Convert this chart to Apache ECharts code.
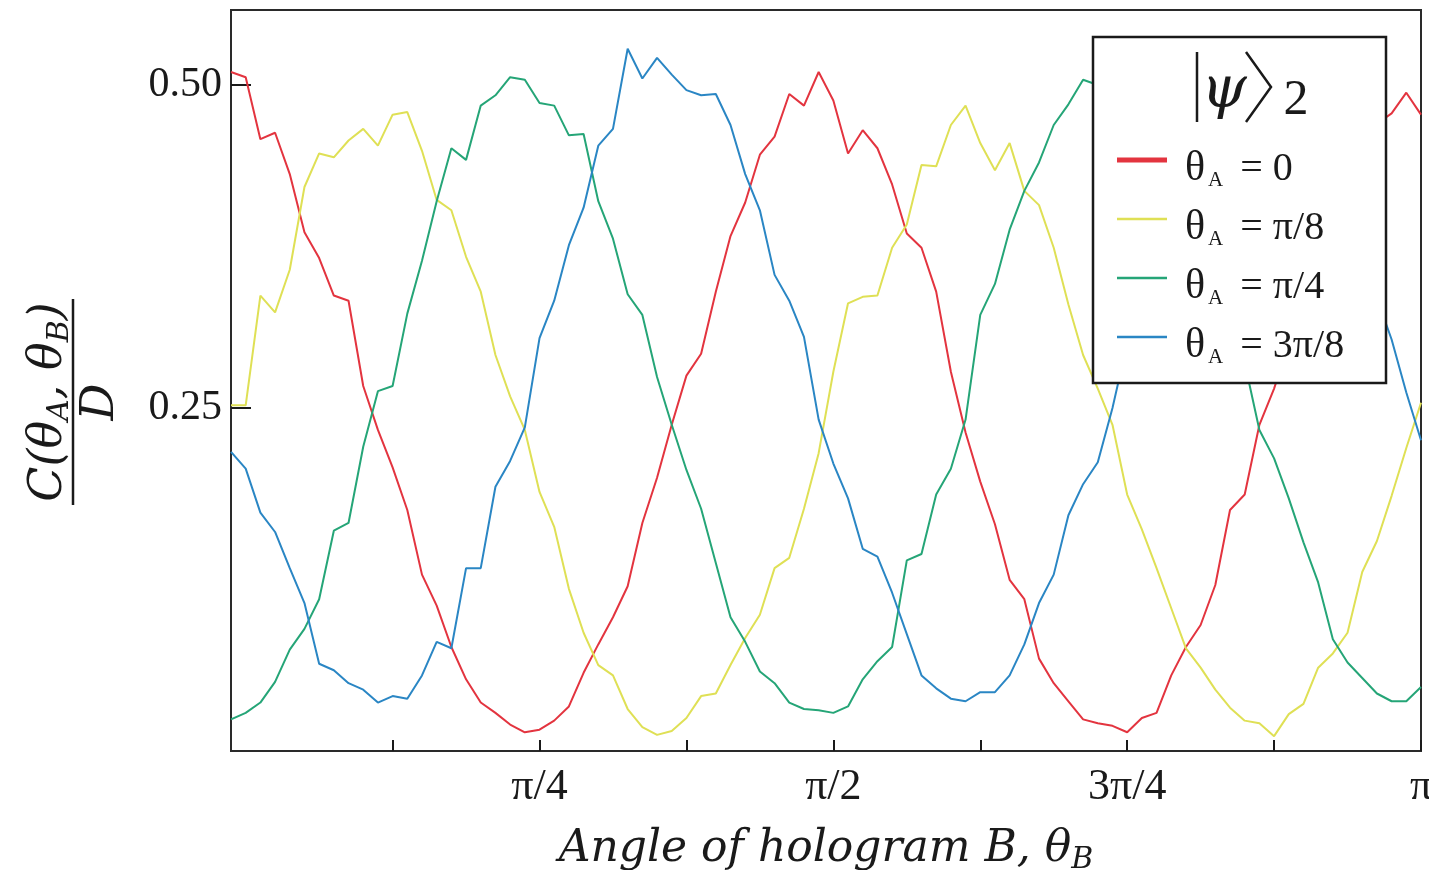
<!DOCTYPE html>
<html>
<head>
<meta charset="utf-8">
<title>C(θA, θB)/D against θB</title>
<script src="https://cdn.jsdelivr.net/npm/echarts@6/dist/echarts.min.js"></script>
<style>
  html, body { margin: 0; padding: 0; background: #fff; }
  #main { width: 1429px; height: 870px; }
</style>
</head>
<body>
<div id="main"></div>
<script>
// angle of hologram B, in units of pi (sampled every pi/80, first sample one step before 0)
var thetaB = [];
for (var k = -1; k <= 80; k++) thetaB.push(k / 80);

// C(thetaA, thetaB) / D
var theta0 = [
  0.510, 0.506, 0.458, 0.463, 0.431, 0.386, 0.366, 0.337, 0.333, 0.267,
  0.233, 0.204, 0.171, 0.121, 0.097, 0.065, 0.040, 0.022, 0.014, 0.005,
  -0.001, 0.001, 0.008, 0.019, 0.045, 0.067, 0.088, 0.112, 0.161, 0.196,
  0.237, 0.275, 0.292, 0.340, 0.383, 0.409, 0.446, 0.460, 0.493, 0.484,
  0.510, 0.488, 0.447, 0.465, 0.451, 0.423, 0.385, 0.374, 0.340, 0.278,
  0.231, 0.193, 0.160, 0.117, 0.102, 0.056, 0.037, 0.023, 0.009, 0.006,
  0.004, -0.001, 0.010, 0.014, 0.043, 0.065, 0.082, 0.113, 0.171, 0.183,
  0.237, 0.265, 0.300, 0.340, 0.380, 0.410, 0.440, 0.460, 0.470, 0.478,
  0.494, 0.477
];
var thetaPi8 = [
  0.252, 0.252, 0.337, 0.324, 0.357, 0.421, 0.447, 0.444, 0.457, 0.466,
  0.453, 0.477, 0.479, 0.449, 0.411, 0.403, 0.367, 0.340, 0.291, 0.259,
  0.233, 0.185, 0.158, 0.110, 0.076, 0.051, 0.043, 0.017, 0.003, -0.003,
  0.000, 0.010, 0.027, 0.029, 0.051, 0.072, 0.090, 0.126, 0.134, 0.172,
  0.215, 0.278, 0.331, 0.336, 0.337, 0.374, 0.392, 0.438, 0.437, 0.469,
  0.484, 0.455, 0.434, 0.455, 0.418, 0.407, 0.374, 0.330, 0.291, 0.265,
  0.237, 0.183, 0.156, 0.126, 0.095, 0.064, 0.049, 0.032, 0.018, 0.008,
  0.006, -0.004, 0.013, 0.021, 0.049, 0.060, 0.076, 0.123, 0.147, 0.182,
  0.219, 0.254
];
var thetaPi4 = [
  0.009, 0.014, 0.022, 0.038, 0.063, 0.079, 0.102, 0.155, 0.161, 0.220,
  0.263, 0.267, 0.323, 0.364, 0.410, 0.451, 0.442, 0.484, 0.492, 0.506,
  0.504, 0.486, 0.484, 0.461, 0.462, 0.410, 0.381, 0.338, 0.322, 0.274,
  0.237, 0.202, 0.172, 0.130, 0.088, 0.069, 0.046, 0.037, 0.022, 0.017,
  0.016, 0.014, 0.019, 0.040, 0.054, 0.065, 0.132, 0.137, 0.183, 0.203,
  0.241, 0.322, 0.346, 0.388, 0.418, 0.440, 0.469, 0.485, 0.504, 0.500,
  0.495, 0.488, 0.470, 0.452, 0.420, 0.395, 0.370, 0.345, 0.318, 0.285,
  0.233, 0.211, 0.180, 0.146, 0.115, 0.071, 0.053, 0.041, 0.029, 0.023,
  0.023, 0.034
];
var theta3Pi8 = [
  0.216, 0.203, 0.169, 0.154, 0.126, 0.099, 0.052, 0.047, 0.037, 0.032,
  0.022, 0.027, 0.025, 0.043, 0.069, 0.064, 0.126, 0.126, 0.189, 0.209,
  0.235, 0.304, 0.333, 0.376, 0.405, 0.453, 0.466, 0.528, 0.505, 0.521,
  0.508, 0.496, 0.492, 0.493, 0.469, 0.431, 0.403, 0.353, 0.333, 0.305,
  0.241, 0.207, 0.180, 0.141, 0.135, 0.107, 0.075, 0.043, 0.033, 0.025,
  0.023, 0.030, 0.030, 0.043, 0.067, 0.099, 0.121, 0.167, 0.191, 0.208,
  0.250, 0.300, 0.340, 0.380, 0.420, 0.450, 0.480, 0.500, 0.520, 0.530,
  0.520, 0.500, 0.480, 0.460, 0.440, 0.410, 0.390, 0.360, 0.335, 0.303,
  0.262, 0.225
];

var seriesNames = ['θA = 0', 'θA = π/8', 'θA = π/4', 'θA = 3π/8'];
var xTickValues = [0.125, 0.25, 0.375, 0.5, 0.625, 0.75, 0.875, 1];
var xLabelValues = [0.25, 0.5, 0.75, 1];
var xLabelTexts = ['π/4', 'π/2', '3π/4', 'π'];
var yLabelValues = [0.25, 0.5];

var serif = "'Liberation Serif', 'DejaVu Serif', serif";
var mathFont = "'DejaVu Serif', 'Liberation Serif', serif";
var ink = '#1a1a1a';

function pairs(ys) {
  return thetaB.map(function (x, i) { return [x, ys[i]]; });
}

var chart = echarts.init(document.getElementById('main'), null, { renderer: 'canvas' });

var colors = ['#e3343f', '#dfe055', '#25a577', '#2a86c4'];
var allData = [theta0, thetaPi8, thetaPi4, theta3Pi8];

var option = {
  animation: false,
  backgroundColor: '#fff',
  grid: {
    left: 231, right: 8, top: 10, bottom: 119,
    show: true, borderColor: '#2a2a2a', borderWidth: 2,
    outerBoundsMode: 'none'
  },
  xAxis: {
    type: 'value',
    min: -1 / 80,
    max: 1,
    axisLine: { show: true, onZero: false, lineStyle: { color: '#2a2a2a', width: 2 } },
    axisTick: {
      show: true, inside: true, length: 11,
      customValues: xTickValues,
      lineStyle: { color: ink, width: 2 }
    },
    axisLabel: {
      customValues: xLabelValues,
      formatter: function (v) {
        for (var i = 0; i < xLabelValues.length; i++) {
          if (Math.abs(xLabelValues[i] - v) < 1e-6) return xLabelTexts[i];
        }
        return '';
      },
      fontFamily: serif, fontSize: 44, color: ink, margin: 14
    },
    splitLine: { show: false },
    name: '{n|Angle of hologram B, θ}{s|B}',
    nameLocation: 'middle',
    nameGap: 74,
    nameMoveOverlap: false,
    nameTextStyle: {
      rich: {
        n: { fontFamily: mathFont, fontStyle: 'italic', fontSize: 44, lineHeight: 50, color: ink },
        s: { fontFamily: mathFont, fontStyle: 'italic', fontSize: 30, lineHeight: 24, verticalAlign: 'bottom', color: ink }
      }
    }
  },
  yAxis: {
    type: 'value',
    min: -0.0155,
    max: 0.558,
    axisLine: { show: true, onZero: false, lineStyle: { color: '#2a2a2a', width: 2 } },
    axisTick: {
      show: true, inside: true, length: 20,
      customValues: yLabelValues,
      lineStyle: { color: ink, width: 2 }
    },
    axisLabel: {
      customValues: yLabelValues,
      formatter: function (v) { return v.toFixed(2); },
      fontFamily: serif, fontSize: 42, color: ink, margin: 9
    },
    splitLine: { show: false }
  },
  legend: {
    orient: 'vertical',
    left: 1117,
    top: 148,
    padding: 0,
    itemWidth: 50,
    itemHeight: 6,
    itemGap: 16,
    z: 20,
    data: seriesNames.map(function (n, i) {
      return {
        name: n,
        icon: i === 0 ? 'path://M0,0H50V5H0Z' : 'path://M0,0H50V2.5H0Z'
      };
    }),
    formatter: function (name) {
      return '{a|θ}{s|A}{t| = ' + name.split('= ')[1] + '}';
    },
    textStyle: {
      padding: [18, 0, 0, 0],
      rich: {
        a: { fontFamily: serif, fontSize: 42, lineHeight: 44, color: ink, padding: [0, 0, 0, 13] },
        t: { fontFamily: serif, fontSize: 40, lineHeight: 44, color: ink },
        s: { fontFamily: serif, fontSize: 21, lineHeight: 17, verticalAlign: 'bottom', color: ink, padding: [0, 7, 0, 3] }
      }
    }
  },
  graphic: [
    // legend frame
    {
      type: 'rect', z: 10,
      shape: { x: 1093, y: 37, width: 293, height: 346 },
      style: { fill: '#fff', stroke: ink, lineWidth: 2.5 }
    },
    // |psi>_2 heading
    {
      type: 'line', z: 21,
      shape: { x1: 1197, y1: 52, x2: 1197, y2: 122 },
      style: { stroke: ink, lineWidth: 2.5 }
    },
    {
      type: 'text', z: 21, x: 1224, y: 92,
      style: {
        text: 'ψ', fontFamily: mathFont, fontStyle: 'italic', fontSize: 58,
        fill: ink, align: 'center', verticalAlign: 'middle'
      }
    },
    {
      type: 'polyline', z: 21,
      shape: { points: [[1246, 52], [1271, 87], [1246, 122]] },
      style: { stroke: ink, lineWidth: 2.5, fill: null }
    },
    {
      type: 'text', z: 21, x: 1296, y: 101,
      style: {
        text: '2', fontFamily: serif, fontSize: 50,
        fill: ink, align: 'center', verticalAlign: 'middle'
      }
    },
    // y axis title: C(thetaA, thetaB) / D, rotated
    {
      type: 'group', x: 73, y: 402, rotation: Math.PI / 2,
      children: [
        {
          type: 'text', x: 0, y: -24,
          style: {
            text: '{m|C(θ}{s|A}{m|, θ}{s|B}{m|)}',
            align: 'center', verticalAlign: 'middle',
            rich: {
              m: { fontFamily: mathFont, fontStyle: 'italic', fontSize: 46, lineHeight: 52, fill: ink },
              s: { fontFamily: mathFont, fontStyle: 'italic', fontSize: 30, lineHeight: 24, verticalAlign: 'bottom', fill: ink }
            }
          }
        },
        {
          type: 'line',
          shape: { x1: -103, y1: 0, x2: 103, y2: 0 },
          style: { stroke: ink, lineWidth: 2.5 }
        },
        {
          type: 'text', x: 0, y: 28,
          style: {
            text: 'D', fontFamily: mathFont, fontStyle: 'italic', fontSize: 46,
            fill: ink, align: 'center', verticalAlign: 'middle'
          }
        }
      ]
    }
  ],
  series: seriesNames.map(function (n, i) {
    return {
      name: n,
      type: 'line',
      data: pairs(allData[i]),
      symbol: 'none',
      color: colors[i],
      lineStyle: { width: 2, color: colors[i] },
      z: 2
    };
  })
};

chart.setOption(option);
</script>
</body>
</html>
